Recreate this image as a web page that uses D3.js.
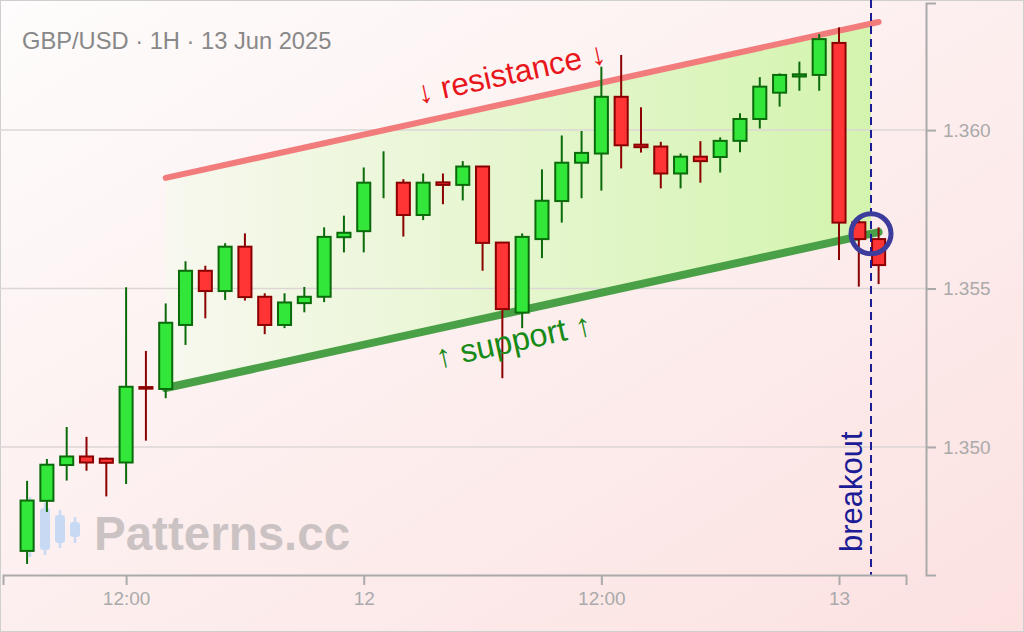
<!DOCTYPE html>
<html><head><meta charset="utf-8">
<script src="https://cdn.jsdelivr.net/npm/d3@7"></script>
<style>html,body{margin:0;padding:0;background:#fff;} svg{display:block;font-family:"Liberation Sans",Arial,Helvetica,sans-serif;}</style>
</head><body><svg id="c" width="1024" height="632"></svg>
<script>
// ---- data ----
const title = "GBP/USD · 1H · 13 Jun 2025";
const firstCandle = new Date(Date.UTC(2025,5,11,7));
const afterLast = new Date(Date.UTC(2025,5,13,3));
const opens  = [1.34672,1.34830,1.34943,1.34970,1.34963,1.34951,1.35189,1.35183,1.35385,1.35556,1.35492,1.35632,1.35474,1.35385,1.35454,1.35474,1.35662,1.35681,1.35858,1.35834,1.35732,1.35835,1.35827,1.35885,1.35645,1.35424,1.35656,1.35776,1.35897,1.35926,1.36105,1.35954,1.35948,1.35863,1.35916,1.35915,1.35966,1.36035,1.36118,1.36169,1.36174,1.36275,1.35709,1.35656];
const highs  = [1.34893,1.34962,1.35063,1.35032,1.34966,1.35504,1.35303,1.35453,1.35586,1.35572,1.35643,1.35674,1.35485,1.35485,1.35505,1.35693,1.35730,1.35882,1.35933,1.35845,1.35863,1.35863,1.35902,1.35887,1.35647,1.35674,1.35876,1.35983,1.35997,1.36200,1.36237,1.36072,1.35963,1.35926,1.35965,1.35977,1.36053,1.36167,1.36179,1.36216,1.36303,1.36324,1.35723,1.35693];
const lows   = [1.34631,1.34795,1.34894,1.34925,1.34844,1.34883,1.35020,1.35154,1.35322,1.35406,1.35464,1.35462,1.35356,1.35375,1.35425,1.35457,1.35614,1.35614,1.35785,1.35664,1.35716,1.35766,1.35778,1.35556,1.35217,1.35375,1.35596,1.35708,1.35785,1.35809,1.35879,1.35929,1.35816,1.35816,1.35834,1.35866,1.35930,1.36005,1.36074,1.36124,1.36124,1.35590,1.35506,1.35514];
const closes = [1.34831,1.34944,1.34970,1.34951,1.34950,1.35190,1.35184,1.35392,1.35556,1.35492,1.35632,1.35473,1.35385,1.35456,1.35474,1.35663,1.35676,1.35834,1.35858,1.35732,1.35834,1.35827,1.35885,1.35644,1.35435,1.35663,1.35777,1.35897,1.35928,1.36105,1.35952,1.35946,1.35863,1.35916,1.35902,1.35966,1.36035,1.36137,1.36174,1.36176,1.36287,1.35708,1.35656,1.35574];
const channelTimes = [new Date(Date.UTC(2025,5,11,14)), new Date(Date.UTC(2025,5,13,2))];
const resistance = [1.35849, 1.36341];
const support    = [1.35186, 1.35678];
const breakoutTime = new Date(Date.UTC(2025,5,13,1,37));
const resLabelTime = new Date(Date.UTC(2025,5,12,7,45));
const supLabelTime = new Date(Date.UTC(2025,5,12,7,15));
const xTickTimes = [new Date(Date.UTC(2025,5,11,12)), new Date(Date.UTC(2025,5,12,0)), new Date(Date.UTC(2025,5,12,12)), new Date(Date.UTC(2025,5,13,0))];
const xTickLabels = ["12:00","12","12:00","13"];
const yTicks = [1.350, 1.355, 1.360];
const xDomain = [new Date(Date.UTC(2025,5,11,5,47)), new Date(Date.UTC(2025,5,13,3,23))];
const yDomain = [1.34596, 1.36401];

const times = d3.utcHours(firstCandle, afterLast);
const candles = times.map((t,i)=>({t, o:opens[i], h:highs[i], l:lows[i], c:closes[i]}));

// ---- scales ----
const W=1024,H=632;
const x = d3.scaleUtc().domain(xDomain).range([3,906]);
const y = d3.scaleLinear().domain(yDomain).range([575,3]);
const axisX = 926, axisY = 575;

const svg = d3.select("#c");
const defs = svg.append("defs");
const bg = defs.append("linearGradient").attr("id","bg").attr("x1",0).attr("y1",0).attr("x2",1).attr("y2",1);
bg.append("stop").attr("offset","0%").attr("stop-color","#fefcfc");
bg.append("stop").attr("offset","100%").attr("stop-color","#fce1e1");
const fg = defs.append("linearGradient").attr("id","fillg").attr("x1",0).attr("y1",0).attr("x2",1).attr("y2",0);
fg.append("stop").attr("offset","0%").attr("stop-color","#f8f8ef");
fg.append("stop").attr("offset","100%").attr("stop-color","#d3f4ae");

svg.append("rect").attr("x",0.5).attr("y",0.5).attr("width",W-1).attr("height",H-1)
  .attr("fill","url(#bg)").attr("stroke","#cfcfcf").attr("stroke-width",1);

// channel helper lines
const resLine = d3.scaleUtc().domain(channelTimes).range(resistance);
const supLine = d3.scaleUtc().domain(channelTimes).range(support);

// fill polygon
const fillPts = [
  [x(channelTimes[0]), y(resLine(channelTimes[0]))],
  [x(breakoutTime), y(resLine(breakoutTime))],
  [x(breakoutTime), y(supLine(breakoutTime))],
  [x(channelTimes[0]), y(supLine(channelTimes[0]))]
];
svg.append("path").attr("d", d3.line()(fillPts) + "Z").attr("fill","url(#fillg)");

// grid
svg.append("g").selectAll("line").data(yTicks).join("line")
  .attr("x1",0).attr("x2",axisX).attr("y1",d=>y(d)).attr("y2",d=>y(d))
  .attr("stroke","#ddd6d6").attr("stroke-width",1.5);

// watermark
const wm = svg.append("g");
const icon = [[30,500,552,497,557],[45,508,550,503,555],[60,515,543,510,548],[75,522,537,517,543]];
icon.forEach(d=>{
  wm.append("line").attr("x1",d[0]).attr("x2",d[0]).attr("y1",d[3]).attr("y2",d[4]).attr("stroke","#c8daf3").attr("stroke-width",2.5);
  wm.append("rect").attr("x",d[0]-5).attr("y",d[1]).attr("width",10).attr("height",d[2]-d[1]).attr("rx",3).attr("fill","#c8daf3");
});
wm.append("text").attr("x",94).attr("y",550).attr("font-size",47.5).attr("font-weight","bold")
  .attr("fill","#cbc3c3").text("Patterns.cc");

// channel lines
svg.append("line").attr("x1",x(channelTimes[0])).attr("y1",y(resistance[0])).attr("x2",x(channelTimes[1])).attr("y2",y(resistance[1]))
  .attr("stroke","#f27c7c").attr("stroke-width",6).attr("stroke-linecap","round");
svg.append("line").attr("x1",x(channelTimes[0])).attr("y1",y(support[0])).attr("x2",x(channelTimes[1])).attr("y2",y(support[1]))
  .attr("stroke","#4aa046").attr("stroke-width",8).attr("stroke-linecap","round");

// candles
const step = x(times[1]) - x(times[0]);
const bw = step*0.66;
const cg = svg.append("g");
cg.selectAll("line").data(candles).join("line")
  .attr("x1",d=>x(d.t)).attr("x2",d=>x(d.t)).attr("y1",d=>y(d.h)).attr("y2",d=>y(d.l))
  .attr("stroke",d=>d.c>=d.o?"#0b6b0b":"#8b0000").attr("stroke-width",2);
cg.selectAll("rect").data(candles).join("rect")
  .attr("x",d=>x(d.t)-bw/2).attr("width",bw)
  .attr("y",d=>y(Math.max(d.o,d.c))).attr("height",d=>Math.abs(y(d.o)-y(d.c)))
  .attr("fill",d=>d.c>=d.o?"#33e63a":"#ff3535")
  .attr("stroke",d=>d.c>=d.o?"#0b6b0b":"#8b0000").attr("stroke-width",2);

// channel labels
const ang = Math.atan2(y(resistance[1])-y(resistance[0]), x(channelTimes[1])-x(channelTimes[0]))*180/Math.PI;
svg.append("text").attr("transform",`translate(${x(resLabelTime)},${y(resLine(resLabelTime))}) rotate(${ang})`)
  .attr("y",-18).attr("text-anchor","middle").attr("font-size",31.5).attr("fill","#e8161b").text("↓ resistance ↓");
svg.append("text").attr("transform",`translate(${x(supLabelTime)},${y(supLine(supLabelTime))}) rotate(${ang})`)
  .attr("y",39).attr("text-anchor","middle").attr("font-size",32.5).attr("fill","#178a17").text("↑ support ↑");

// breakout
const bx = x(breakoutTime);
svg.append("line").attr("x1",bx).attr("x2",bx).attr("y1",0).attr("y2",axisY)
  .attr("stroke","#1c1c96").attr("stroke-width",2).attr("stroke-dasharray","8,5");
svg.append("circle").attr("cx",bx).attr("cy",y(supLine(breakoutTime))).attr("r",20)
  .attr("fill","none").attr("stroke","#3c3c9c").attr("stroke-width",5);
svg.append("text").attr("transform",`translate(${bx-9},552) rotate(-90)`)
  .attr("font-size",31).attr("fill","#1c1c96").text("breakout");

// axes
const xAxis = d3.axisBottom(x).tickValues(xTickTimes).tickFormat((d,i)=>xTickLabels[i]).tickSize(10).tickSizeOuter(10).tickPadding(7);
const yAxis = d3.axisRight(y).tickValues(yTicks).tickFormat(d3.format(".3f")).tickSize(10).tickSizeOuter(10).tickPadding(7);
const gx = svg.append("g").attr("transform",`translate(0,${axisY})`).call(xAxis);
const gy = svg.append("g").attr("transform",`translate(${axisX},0)`).call(yAxis);
[gx,gy].forEach(g=>{
  g.select(".domain").attr("stroke","#aaa").attr("stroke-width",2);
  g.selectAll(".tick line").attr("stroke","#aaa").attr("stroke-width",2);
  g.selectAll(".tick text").attr("fill","#aaa").attr("font-size",19).attr("font-family",'"Liberation Sans",Arial,sans-serif');
});

// title
svg.append("text").attr("x",22).attr("y",49).attr("font-size",23.7).attr("fill","#888").text(title);
</script></body></html>
